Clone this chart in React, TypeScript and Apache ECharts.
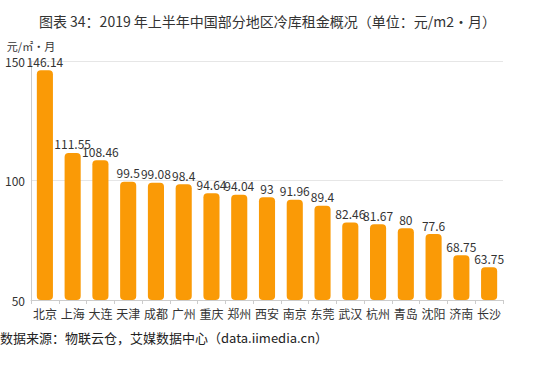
import React, { useEffect, useRef } from "react";
import * as echarts from "echarts";

const categories = ["北京", "上海", "大连", "天津", "成都", "广州", "重庆", "郑州", "西安", "南京", "东莞", "武汉", "杭州", "青岛", "沈阳", "济南", "长沙"];
const rents = [146.14, 111.55, 108.46, 99.5, 99.08, 98.4, 94.64, 94.04, 93, 91.96, 89.4, 82.46, 81.67, 80, 77.6, 68.75, 63.75];
const yTicks = { min: 50, max: 150, interval: 50 };

const FONT = "'Noto Sans CJK SC', 'Noto Sans', sans-serif";

export default function App() {
  const ref = useRef<HTMLDivElement>(null);
  useEffect(() => {
    if (!ref.current) return;
    const chart = echarts.init(ref.current, undefined, { renderer: "svg" });
    chart.setOption({
      animation: false,
      textStyle: { fontFamily: FONT },
      title: {
        text: "图表 34：2019 年上半年中国部分地区冷库租金概况（单位：元/m2·月）",
        left: "center",
        top: 9,
        textStyle: { fontSize: 14, fontWeight: "normal", color: "#333", fontFamily: FONT },
      },
      graphic: [
        {
          type: "text",
          left: 0,
          top: 331,
          style: {
            text: "数据来源：物联云仓，艾媒数据中心（data.iimedia.cn）",
            fontSize: 13,
            fill: "#222",
            fontFamily: FONT,
          },
        },
      ],
      grid: { left: 31, right: 32, top: 61, bottom: 65 },
      xAxis: {
        type: "category",
        data: categories,
        axisLine: { lineStyle: { color: "#ccc" } },
        axisTick: { show: true, lineStyle: { color: "#ccc" }, length: 4 },
        axisLabel: { color: "#333", fontSize: 12, margin: 7, interval: 0 },
      },
      yAxis: {
        type: "value",
        min: yTicks.min,
        max: yTicks.max,
        interval: yTicks.interval,
        name: "元/㎡·月",
        nameLocation: "end",
        nameGap: 10,
        nameTextStyle: { color: "#333", fontSize: 11, align: "center", padding: [0, 0, 0, 0] },
        axisLine: { show: true, lineStyle: { color: "#ccc" } },
        axisTick: { show: false },
        axisLabel: { color: "#333", fontSize: 12, margin: 6 },
        splitLine: { lineStyle: { color: "#e6e6e6" } },
      },
      series: [
        {
          type: "bar",
          data: rents,
          barWidth: "58%",
          itemStyle: { color: "#FA9A06", borderRadius: 4 },
          label: { show: true, position: "top", color: "#333", fontSize: 12, distance: 3 },
        },
      ],
    });
    return () => chart.dispose();
  }, []);
  return <div ref={ref} style={{ width: 535, height: 365, position: "absolute", left: 0, top: 0 }} />;
}
